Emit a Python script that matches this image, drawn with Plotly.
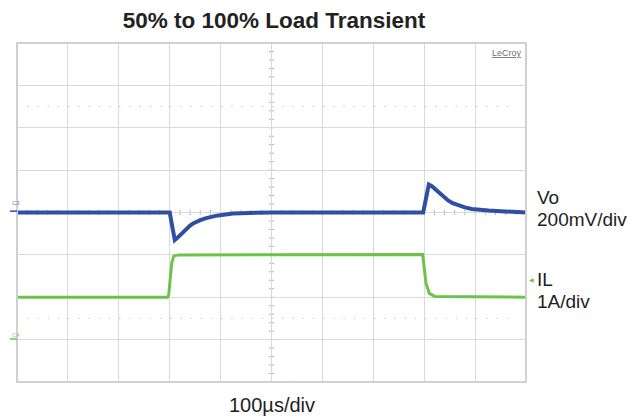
import plotly.graph_objects as go

# scope capture
# Vo: AC-coupled deviation (mV), 200 mV/div, centred on the screen
vo_time_us = [0, 300, 305, 310, 314, 320, 326, 333, 340, 346, 353, 360, 370, 379, 390, 399, 412, 424, 440, 458, 480, 500,
              798, 803, 809, 815, 821, 828, 834, 840, 847, 856, 867, 880, 893, 910, 926, 959, 1000]
vo_mv = [0, 0, -65, -130, -122, -107, -92, -75, -62, -52, -43, -36, -28, -21, -16, -13, -8, -5, -3, -2, -1, 0,
         0, 65, 132, 124, 112, 95, 80, 68, 57, 44, 33, 24, 17, 12, 9, 5, 0]

# IL: inductor current (A), 1 A/div, ground one division above the bottom
il_time_us = [0, 296, 298, 300.5, 304, 308, 317, 797, 799.6, 803.5, 810, 821, 1000]
il_a = [1.0, 1.0, 1.05, 1.33, 1.81, 1.97, 2.0, 2.01, 1.72, 1.33, 1.09, 1.02, 1.0]

BLUE = "#2f4fa2"
GREEN = "#6cc24a"
GRID = "#d9d9d9"
FONT = "Arial, Liberation Sans, sans-serif"

# the page body adds an 8px margin, so the figure is sized to sit inside the window
PAGE_PAD = 8

fig = go.Figure()

# graticule extras: dotted rows, centre-line ticks, frame
shapes = []
for yp in (0.8125, 0.1875):
    shapes.append(dict(type="line", xref="paper", yref="paper", x0=0.02, x1=0.98, y0=yp, y1=yp,
                       line=dict(color="#c9c9c9", width=1, dash="1.5px,8.7px"), layer="below"))
shapes.append(dict(type="line", xref="x", yref="paper", x0=500, x1=500, y0=0, y1=1,
                   line=dict(color="#c4c4c4", width=1), layer="below"))
shapes.append(dict(type="line", xref="paper", yref="y", x0=0, x1=1, y0=0, y1=0,
                   line=dict(color="#c4c4c4", width=1), layer="below"))
for k in range(-20, 21):
    shapes.append(dict(type="line", xref="x", yref="y", x0=495, x1=505, y0=k * 40, y1=k * 40,
                       line=dict(color="#b5b5b5", width=1), layer="below"))
for k in range(0, 51):
    shapes.append(dict(type="line", xref="x", yref="y", x0=k * 20, x1=k * 20, y0=-12, y1=12,
                       line=dict(color="#b5b5b5", width=1), layer="below"))
shapes.append(dict(type="rect", xref="paper", yref="paper", x0=0, x1=1, y0=0, y1=1,
                   line=dict(color="#d0d0d0", width=2)))
# short channel ground markers on the left edge
shapes.append(dict(type="line", xref="paper", yref="paper", x0=-0.014, x1=0, y0=0.504, y1=0.504,
                   line=dict(color=BLUE, width=1.5)))
shapes.append(dict(type="line", xref="paper", yref="paper", x0=-0.014, x1=0, y0=0.127, y1=0.127,
                   line=dict(color=GREEN, width=1.5)))

fig.add_trace(go.Scatter(x=il_time_us, y=il_a, yaxis="y2", mode="lines",
                         line=dict(color=GREEN, width=3), showlegend=False, hoverinfo="skip"))
fig.add_trace(go.Scatter(x=vo_time_us, y=vo_mv, mode="lines",
                         line=dict(color=BLUE, width=4), showlegend=False, hoverinfo="skip"))

annotations = [
    dict(xref="paper", yref="paper", x=0.0, y=0.5118, xshift=-7, text="C3", showarrow=False,
         xanchor="left", yanchor="bottom", font=dict(family=FONT, size=6, color="#6d86c6")),
    dict(xref="paper", yref="paper", x=0.0, y=0.125, xshift=-7, text="C4", showarrow=False,
         xanchor="left", yanchor="bottom", font=dict(family=FONT, size=6, color="#8fd274")),
    dict(xref="paper", yref="paper", x=1.0, y=1.0, xshift=-2, yshift=-3, text="<u>LeCroy</u>",
         showarrow=False, xanchor="right", yanchor="top", font=dict(family=FONT, size=9, color="#707070")),
    dict(xref="paper", yref="paper", x=0.5, y=0, yshift=-23, text="100µs/div", showarrow=False,
         xanchor="center", yanchor="middle", font=dict(family=FONT, size=20, color="#1e1e1e")),
    # trigger level marker for IL
    dict(xref="paper", yref="paper", x=1.0, xshift=1, y=(382 - 279) / 339, text="◀", showarrow=False,
         xanchor="left", yanchor="middle", font=dict(family="DejaVu Sans", size=6, color=GREEN)),
]
for text, ypix in (("Vo", 197), ("200mV/div", 219), ("IL", 279), ("1A/div", 301)):
    annotations.append(dict(xref="paper", yref="paper", x=1.0, xshift=9, y=(382 - ypix) / 339,
                            text=text, showarrow=False, xanchor="left", yanchor="middle",
                            font=dict(family=FONT, size=19, color="#1e1e1e")))

fig.update_layout(
    width=636 - PAGE_PAD,
    height=418 - PAGE_PAD,
    margin=dict(l=17 - PAGE_PAD, r=110, t=43 - PAGE_PAD, b=36),
    paper_bgcolor="white",
    plot_bgcolor="white",
    title=dict(text="<b>50% to 100% Load Transient</b>", x=(274 - PAGE_PAD) / (636 - PAGE_PAD),
               xanchor="center", y=1 - (20 - PAGE_PAD) / (418 - PAGE_PAD), yanchor="middle",
               font=dict(family=FONT, size=22.5, color="#222222")),
    shapes=shapes,
    annotations=annotations,
    xaxis=dict(range=[0, 1000], dtick=100, showgrid=True, gridcolor=GRID, gridwidth=1,
               showticklabels=False, zeroline=False, ticks=""),
    yaxis=dict(range=[-800, 800], dtick=200, showgrid=True, gridcolor=GRID, gridwidth=1,
               showticklabels=False, zeroline=False, ticks=""),
    yaxis2=dict(range=[-1, 7], overlaying="y", showgrid=False, showticklabels=False,
                zeroline=False, ticks=""),
)

fig.write_html("out.html")
